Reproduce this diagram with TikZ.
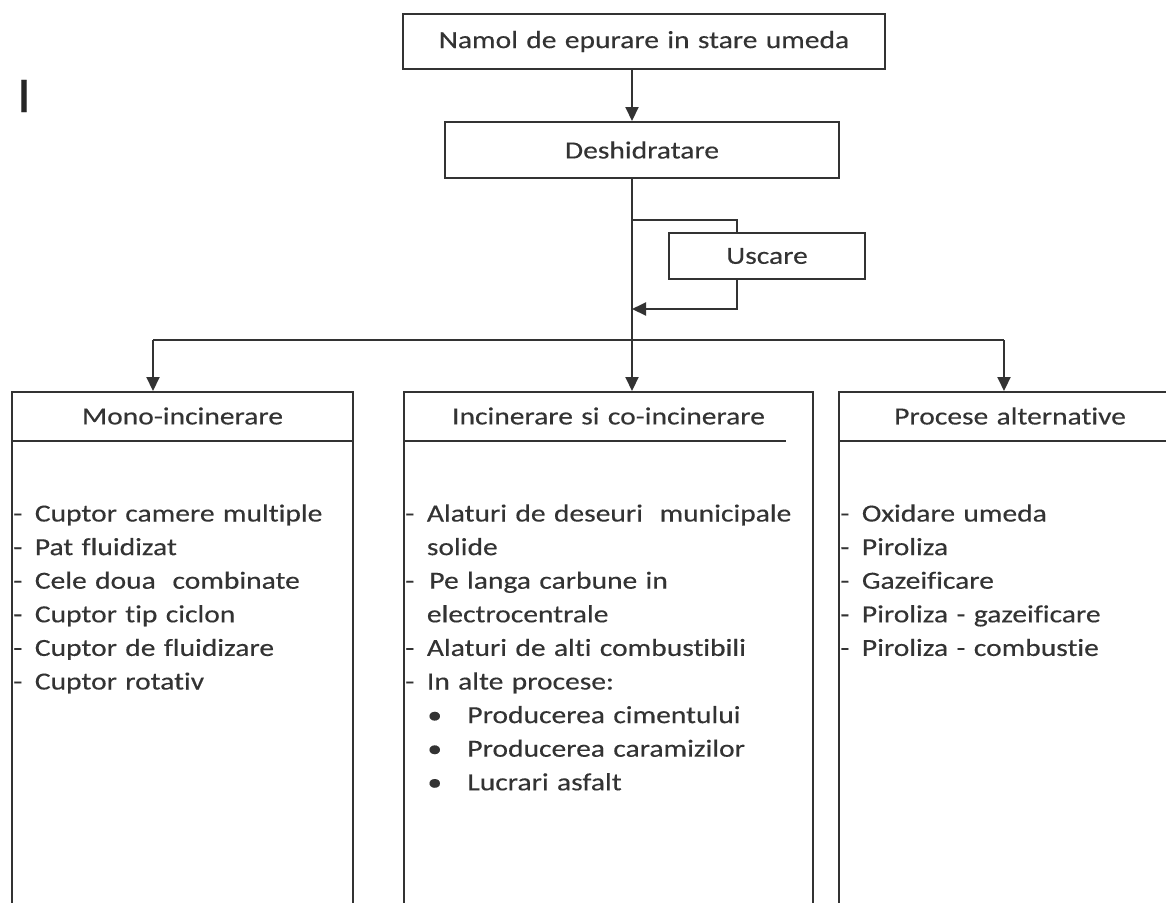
\documentclass[tikz,border=0pt]{standalone}
\usepackage{fontspec}
\setmainfont[FakeStretch=1.2,WordSpace=1.25,FakeBold=0.3,Ligatures=NoCommon]{Carlito}
\usetikzlibrary{arrows.meta}
\newcommand{\dashitem}{\makebox[10.75pt][l]{-}}
\newcommand{\dotitem}{\hspace*{11pt}\makebox[20pt][l]{\textbullet}}

\begin{document}
\begin{tikzpicture}[x=0.5pt,y=-0.5pt]
\tikzset{
  box/.style={draw=black!80, line width=1pt, inner sep=0pt, text=black!80, font=\fontsize{12.3}{14}\selectfont},
  column/.style={box, anchor=north, minimum height=300pt},
  head/.style={text=black!80, font=\fontsize{12.3}{14}\selectfont},
  items/.style={anchor=north west, align=left, inner sep=0pt, text=black!80, font=\fontsize{12.3}{16.8}\selectfont},
  arr/.style={draw=black!80, line width=1pt, -{Triangle[length=7pt,width=6.5pt]}},
  wire/.style={draw=black!80, line width=1pt}
}
\useasboundingbox (0,0) rectangle (1166,902);
\clip (0,0) rectangle (1166,902);

\node[text=black!85, font=\fontsize{25}{30}\selectfont] (mark) at (24,96) {I};
\node[box, minimum width=241pt, minimum height=27.5pt] (namol) at (644,41.5) {Namol de epurare in stare umeda};
\node[box, minimum width=197pt, minimum height=28pt] (desh) at (642,150) {Deshidratare};
\node[box, minimum width=98pt, minimum height=23pt] (uscare) at (767,256) {Uscare};

\node[column, minimum width=170.5pt] (mono) at (182.5,391) {};
\node[column, minimum width=204.5pt] (inc) at (608.5,391) {};
\node[column, minimum width=171pt] (alt) at (1010,391) {};

% headers
\node[head] (monoh) at ([yshift=-12.5pt]mono.north) {Mono-incinerare};
\node[head] (inch) at ([yshift=-12.5pt]inc.north) {Incinerare si co-incinerare};
\node[head] (alth) at ([yshift=-12.5pt]alt.north) {Procese alternative};
\draw[wire] ([yshift=-25pt]mono.north west) -- ([yshift=-25pt]mono.north east);
\draw[wire] ([yshift=-25pt]inc.north west) -- ++(383,0);
\draw[wire] ([yshift=-25pt]alt.north west) -- ([yshift=-25pt]alt.north east);

% lists
\node[items] (monol) at (13,504) {\dashitem Cuptor camere multiple\\
  \dashitem Pat fluidizat\\
  \dashitem Cele doua\ \ combinate\\
  \dashitem Cuptor tip ciclon\\
  \dashitem Cuptor de fluidizare\\
  \dashitem Cuptor rotativ};
\node[items] (incl) at (405,504) {\dashitem Alaturi de deseuri\ \ municipale\\
  \hspace*{10.75pt}solide\\
  \makebox[12pt][l]{-}Pe langa carbune in\\
  \hspace*{10.75pt}electrocentrale\\
  \dashitem Alaturi de alti combustibili\\
  \dashitem In alte procese:\\
  \dotitem Producerea cimentului\\
  \dotitem Producerea caramizilor\\
  \dotitem Lucrari asfalt};
\node[items] (altl) at (840,504) {\dashitem Oxidare umeda\\
  \dashitem Piroliza\\
  \dashitem Gazeificare\\
  \dashitem Piroliza - gazeificare\\
  \dashitem Piroliza - combustie};

% connectors
\coordinate (spine) at (632,0);
\coordinate (tap) at (632,220);
\coordinate (loop) at (737,0);
\coordinate (back) at (632,309);
\coordinate (lbr) at (153,340);
\coordinate (rbr) at (1004,340);
\draw[arr] (namol.south -| spine) -- (desh.north -| spine);
\draw[arr] (desh.south -| spine) -- (inc.north -| spine);
\draw[wire] (tap) -| (uscare.north -| loop);
\draw[arr] (uscare.south -| loop) |- (back);
\draw[wire] (lbr) -- (rbr);
\draw[arr] (lbr) -- (lbr |- mono.north);
\draw[arr] (rbr) -- (rbr |- alt.north);
\end{tikzpicture}
\end{document}
